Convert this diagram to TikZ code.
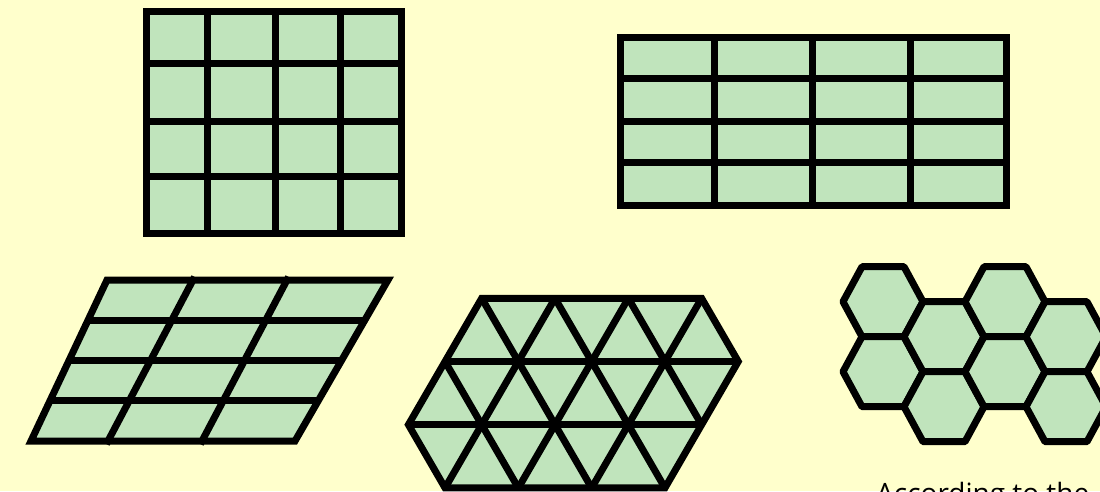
\documentclass[tikz,border=0pt]{standalone}
\usepackage{fontspec}
\setmainfont{Open Sans}
\usetikzlibrary{calc}
\definecolor{bgyellow}{RGB}{255,255,204}
\definecolor{cellgreen}{RGB}{192,228,188}
\tikzset{
  gridline/.style={line width=7pt, black, line cap=rect},
  cellfill/.style={fill=cellgreen},
  outline/.style={line width=7pt, black, fill=cellgreen, line join=miter},
  hexcell/.style={line width=7pt, black, fill=cellgreen, line join=round},
  caption/.style={font=\fontsize{28}{32}\selectfont, text=black, inner sep=0pt, anchor=base west}
}
\begin{document}
\begin{tikzpicture}[x=1pt,y=-1pt]
\useasboundingbox (0,0) rectangle (1100,491);
\clip (0,0) rectangle (1100,491);
\fill[bgyellow] (0,0) rectangle (1100,491);

% ---- square grid (top left)
\fill[cellfill] (146,11.5) rectangle (401.5,233.5);
\foreach \x in {146,207,275,340,401.5} \draw[gridline] (\x,11.5) -- (\x,233.5);
\foreach \y in {11.5,63.7,121,176,233.5} \draw[gridline] (146,\y) -- (401.5,\y);

% ---- rectangular grid (top right)
\fill[cellfill] (620,37.3) rectangle (1006.7,205);
\foreach \x in {620,714,812.7,910.7,1006.7} \draw[gridline] (\x,37.3) -- (\x,205);
\foreach \y in {37.3,78.3,121.7,162.7,205} \draw[gridline] (620,\y) -- (1006.7,\y);

% ---- slanted grid (bottom left)
\coordinate (PT0) at (107,280);
\coordinate (PT1) at (193,280);
\coordinate (PT2) at (287,280);
\coordinate (PT3) at (388,280);
\coordinate (PB0) at (31,441);
\coordinate (PB1) at (108,441);
\coordinate (PB2) at (202,441);
\coordinate (PB3) at (295,441);
\draw[outline] (PT0) -- (PT3) -- (PB3) -- (PB0) -- cycle;
\draw[gridline] (PT1) -- (PB1);
\draw[gridline] (PT2) -- (PB2);
\foreach \t in {0.25,0.5,0.75}
  \draw[gridline, line cap=butt] ($(PT0)!\t!(PB0)$) -- ($(PT3)!\t!(PB3)$);

% ---- triangular grid (bottom middle)
\begin{scope}[shift={(481.7,298.3)}, x={(73.3pt,0pt)}, y={(-36.65pt,-63.2pt)}]
  \draw[outline] (0,0) -- (3,0) -- (4,1) -- (4,3) -- (1,3) -- (0,2) -- cycle;
  \draw[gridline, line cap=butt] (0,1) -- (4,1);
  \draw[gridline, line cap=butt] (0,2) -- (4,2);
  \foreach \i in {1,2,3} \draw[gridline, line cap=butt] (\i,0) -- (\i,3);
  \draw[gridline, line cap=butt] (0,0) -- (3,3);
  \draw[gridline, line cap=butt] (1,0) -- (4,3);
  \draw[gridline, line cap=butt] (2,0) -- (4,2);
  \draw[gridline, line cap=butt] (0,1) -- (2,3);
\end{scope}

% ---- hexagonal tiling (bottom right)
\foreach \cx/\cy in {883/301.7, 883/371.7, 944/336.7, 944/406.7, 1005/301.7, 1005/371.7, 1066/336.7, 1066/406.7}
  \draw[hexcell] (\cx+40,\cy) -- (\cx+21,\cy-35) -- (\cx-21,\cy-35) -- (\cx-40,\cy) -- (\cx-21,\cy+35) -- (\cx+21,\cy+35) -- cycle;

% ---- caption (cut off at bottom edge, as in the reference)
\node[caption] (cap) at (876,503) {According to the};
\end{tikzpicture}
\end{document}
